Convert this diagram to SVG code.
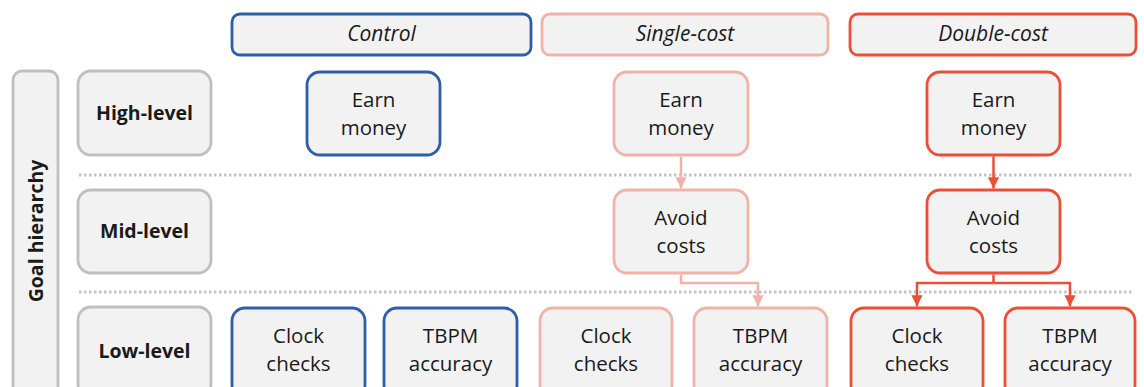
<svg xmlns="http://www.w3.org/2000/svg" width="1144" height="387" viewBox="0 0 1144 387">
  <style>
    .box { fill: #f2f2f2; stroke-width: 2.8; }
    .grey { stroke: #bfbfbf; }
    .blue { stroke: #2f5ea8; }
    .pink { stroke: #f0b3aa; }
    .red { stroke: #ea4f37; }
    .t { font-family: "Open Sans", "Liberation Sans", sans-serif; font-size: 20.5px; fill: #1a1a1a; text-anchor: middle; }
    .b { font-weight: bold; font-size: 19.5px; }
    .i { font-style: italic; font-size: 21px; }
    .dots { stroke: #c4c4c4; stroke-width: 3; stroke-dasharray: 2.5 2.5; fill: none; }
    .wire { fill: none; stroke-width: 2.5; }
  </style>
  <defs>
    <marker id="arrPink" viewBox="0 0 10 10" refX="10" refY="5" markerWidth="4.5" markerHeight="4.5" orient="auto" markerUnits="strokeWidth">
      <path d="M0,0 L10,5 L0,10 z" fill="#f0b3aa"/>
    </marker>
    <marker id="arrRed" viewBox="0 0 10 10" refX="10" refY="5" markerWidth="4.5" markerHeight="4.5" orient="auto" markerUnits="strokeWidth">
      <path d="M0,0 L10,5 L0,10 z" fill="#ea4f37"/>
    </marker>
  </defs>

  <!-- level separators -->
  <g id="separators">
    <line class="dots" x1="79" y1="175" x2="1132" y2="175"/>
    <line class="dots" x1="79" y1="292" x2="1132" y2="292"/>
  </g>

  <!-- condition headers -->
  <g id="hdr-control">
    <rect class="box blue" x="232" y="14" width="299" height="41" rx="8"/>
    <text class="t i" x="381.5" y="41">Control</text>
  </g>
  <g id="hdr-single">
    <rect class="box pink" x="542" y="14" width="286" height="41" rx="8"/>
    <text class="t i" x="685" y="41">Single-cost</text>
  </g>
  <g id="hdr-double">
    <rect class="box red" x="850" y="14" width="286" height="41" rx="8"/>
    <text class="t i" x="993" y="41">Double-cost</text>
  </g>

  <!-- row labels -->
  <g id="goal-hierarchy">
    <rect class="box grey" x="13" y="71" width="45" height="330" rx="9"/>
    <text class="t b" transform="translate(43,231) rotate(-90)" x="0" y="0">Goal hierarchy</text>
  </g>
  <g id="lbl-high">
    <rect class="box grey" x="78" y="71" width="133" height="84" rx="13"/>
    <text class="t b" x="144.5" y="120">High-level</text>
  </g>
  <g id="lbl-mid">
    <rect class="box grey" x="78" y="190" width="133" height="83" rx="13"/>
    <text class="t b" x="144.5" y="238">Mid-level</text>
  </g>
  <g id="lbl-low">
    <rect class="box grey" x="78" y="307" width="133" height="90" rx="13"/>
    <text class="t b" x="144.5" y="358">Low-level</text>
  </g>

  <!-- control condition -->
  <g id="ctl-earn">
    <rect class="box blue" x="307" y="72" width="133" height="83" rx="13"/>
    <text class="t" x="373.5" y="107">Earn</text>
    <text class="t" x="373.5" y="135">money</text>
  </g>
  <g id="ctl-clock">
    <rect class="box blue" x="232" y="308" width="133" height="90" rx="13"/>
    <text class="t" x="298.5" y="343">Clock</text>
    <text class="t" x="298.5" y="371">checks</text>
  </g>
  <g id="ctl-tbpm">
    <rect class="box blue" x="384" y="308" width="133" height="90" rx="13"/>
    <text class="t" x="450.5" y="343">TBPM</text>
    <text class="t" x="450.5" y="371">accuracy</text>
  </g>

  <!-- single-cost condition -->
  <g id="sgl-earn">
    <rect class="box pink" x="614" y="72" width="134" height="83" rx="13"/>
    <text class="t" x="681" y="107">Earn</text>
    <text class="t" x="681" y="135">money</text>
  </g>
  <g id="sgl-avoid">
    <rect class="box pink" x="614" y="190" width="134" height="83" rx="13"/>
    <text class="t" x="681" y="225">Avoid</text>
    <text class="t" x="681" y="253">costs</text>
  </g>
  <g id="sgl-clock">
    <rect class="box pink" x="540" y="308" width="132" height="90" rx="13"/>
    <text class="t" x="606" y="343">Clock</text>
    <text class="t" x="606" y="371">checks</text>
  </g>
  <g id="sgl-tbpm">
    <rect class="box pink" x="694" y="308" width="133" height="90" rx="13"/>
    <text class="t" x="760.5" y="343">TBPM</text>
    <text class="t" x="760.5" y="371">accuracy</text>
  </g>

  <!-- double-cost condition -->
  <g id="dbl-earn">
    <rect class="box red" x="927" y="72" width="133" height="83" rx="13"/>
    <text class="t" x="993.5" y="107">Earn</text>
    <text class="t" x="993.5" y="135">money</text>
  </g>
  <g id="dbl-avoid">
    <rect class="box red" x="927" y="190" width="133" height="83" rx="13"/>
    <text class="t" x="993.5" y="225">Avoid</text>
    <text class="t" x="993.5" y="253">costs</text>
  </g>
  <g id="dbl-clock">
    <rect class="box red" x="851" y="308" width="132" height="90" rx="13"/>
    <text class="t" x="917" y="343">Clock</text>
    <text class="t" x="917" y="371">checks</text>
  </g>
  <g id="dbl-tbpm">
    <rect class="box red" x="1005" y="308" width="130" height="90" rx="13"/>
    <text class="t" x="1070" y="343">TBPM</text>
    <text class="t" x="1070" y="371">accuracy</text>
  </g>

  <!-- connectors -->
  <g id="connectors">
    <path class="wire" stroke="#f0b3aa" d="M681,156.5 V188.5" marker-end="url(#arrPink)"/>
    <path class="wire" stroke="#f0b3aa" d="M681,274.5 V283 H758 V306.5" marker-end="url(#arrPink)"/>
    <path class="wire" stroke="#ea4f37" d="M993.5,156.5 V188.5" marker-end="url(#arrRed)"/>
    <path class="wire" stroke="#ea4f37" d="M993.5,274.5 V283"/>
    <path class="wire" stroke="#ea4f37" d="M993.5,283 H917 V306.5" marker-end="url(#arrRed)"/>
    <path class="wire" stroke="#ea4f37" d="M993.5,283 H1070 V306.5" marker-end="url(#arrRed)"/>
  </g>
</svg>
